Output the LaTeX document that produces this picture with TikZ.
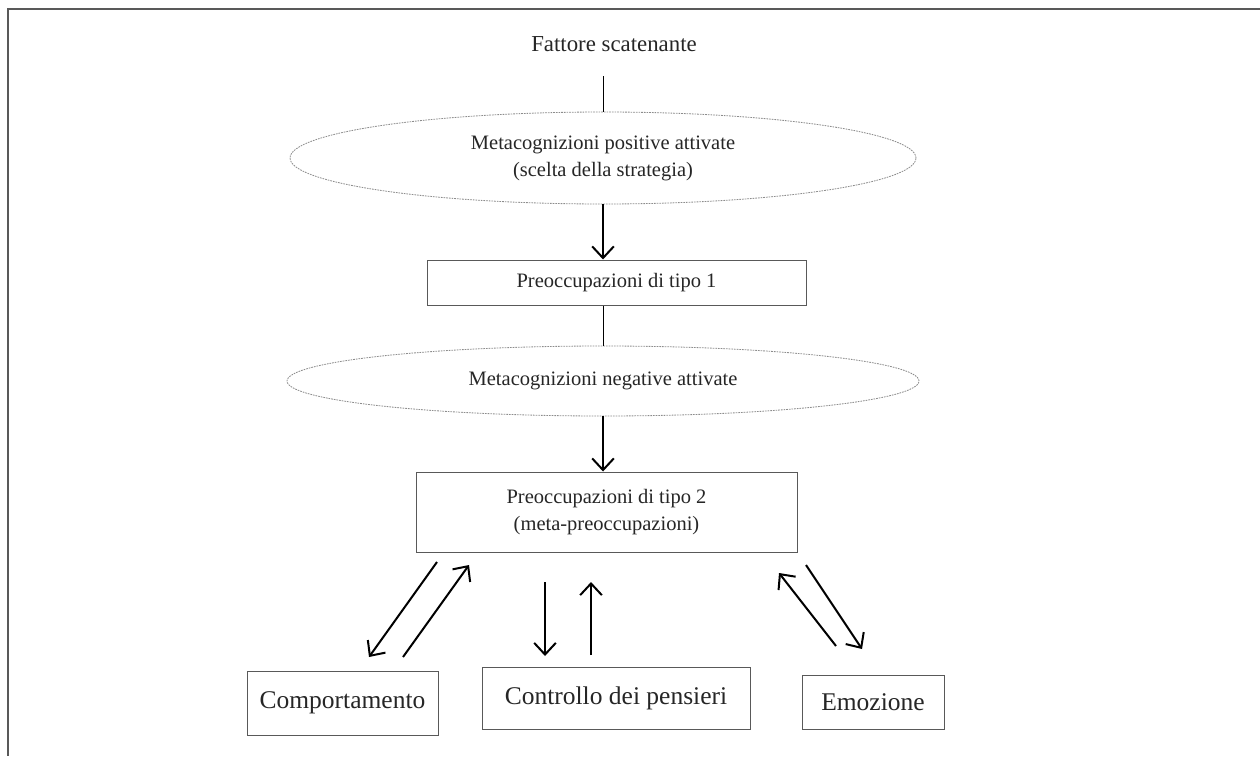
\documentclass[tikz,border=0pt]{standalone}
\usepackage{fontspec}
\setmainfont{Liberation Serif}
\usetikzlibrary{shapes.geometric,arrows.meta}
\begin{document}
\begin{tikzpicture}[x=0.6pt,y=-0.6pt,
  every node/.style={font=\fontsize{12.3}{16.2}\selectfont, text=black!85},
  oval/.style={ellipse, draw=black!45, line width=0.5pt, dash pattern=on 1pt off 0.6pt, inner sep=0pt, align=center},
  box/.style={rectangle, draw=black!65, line width=0.6pt, inner sep=0pt, align=center},
  leaf/.style={box, font=\fontsize{15.3}{18}\selectfont},
  link/.style={draw=black, line width=0.6pt},
  flow/.style={draw=black, line width=1.2pt, -{Straight Barb[length=7pt,width=13pt,line width=1.2pt]}},
]
\useasboundingbox (0,0) rectangle (1260,756);
% page frame (top and left rules)
\draw[black!65, line width=1.2pt] (1260,9) -- (8,9) -- (8,756);

% main column
\node[font=\fontsize{13.7}{16}\selectfont] (trigger) at (614,44) {Fattore scatenante};
\node[oval, minimum width=375.6pt, minimum height=55.2pt] (pos) at (603,158)
  {Metacognizioni positive attivate\\(scelta della strategia)};
\node[box, minimum width=227.4pt, minimum height=27pt] (w1) at (616.5,282.5)
  {Preoccupazioni di tipo 1};
\node[oval, minimum width=379.2pt, minimum height=42pt] (neg) at (603,381)
  {Metacognizioni negative attivate};
\node[box, minimum width=228.6pt, minimum height=48pt] (w2) at (606.5,512)
  {Preoccupazioni di tipo 2\\(meta-preoccupazioni)};

% outcome boxes
\node[leaf, minimum width=114.6pt, minimum height=38.4pt] (beh) at (342.5,703) {Comportamento};
\node[leaf, minimum width=160.8pt, minimum height=37.2pt] (ctl) at (616,698) {Controllo dei pensieri};
\node[leaf, minimum width=85.2pt, minimum height=32.4pt] (emo) at (873,702) {Emozione};

% vertical links
\coordinate (t0) at (603,76);
\draw[link] (t0) -- (pos.north);
\draw[flow] (pos.south) -- (w1.north -| pos.south);
\draw[link] (w1.south -| neg.north) -- (neg.north);
\draw[flow] (neg.south) -- (w2.north -| neg.south);

% two-way arrows between the meta-worry box and the outcomes
\coordinate (a1) at (437,562); \coordinate (a2) at (369,657);
\coordinate (b1) at (403,657); \coordinate (b2) at (469,565);
\coordinate (c1) at (545,582); \coordinate (c2) at (545,656);
\coordinate (d1) at (591,655); \coordinate (d2) at (591,582);
\coordinate (e1) at (836,646); \coordinate (e2) at (779,573);
\coordinate (f1) at (806,565); \coordinate (f2) at (862,649);
\draw[flow] (a1) -- (a2);
\draw[flow] (b1) -- (b2);
\draw[flow] (c1) -- (c2);
\draw[flow] (d1) -- (d2);
\draw[flow] (e1) -- (e2);
\draw[flow] (f1) -- (f2);
\end{tikzpicture}
\end{document}
